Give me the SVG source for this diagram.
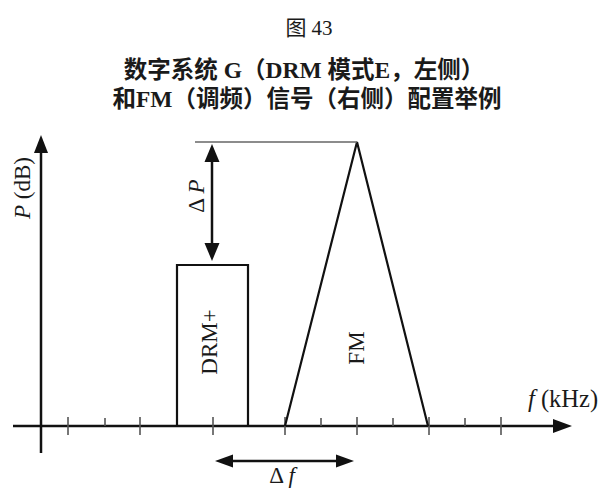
<svg xmlns="http://www.w3.org/2000/svg" width="603" height="488" viewBox="0 0 603 488">
  <style>
    .t { font-family: "Liberation Serif", "Noto Sans CJK SC", serif; fill: #1a1a1a; }
    .title { font-weight: bold; font-size: 23.5px; }
    .lbl { font-size: 23px; }
    .it { font-style: italic; }
    .axis { stroke: #111; stroke-width: 2.5; fill: none; }
    .tick { stroke: #555; stroke-width: 1.6; }
    .shape { stroke: #111; stroke-width: 2.2; fill: none; stroke-linejoin: miter; }
    .ref { stroke: #666; stroke-width: 1.6; }
    .arr { stroke: #111; stroke-width: 2.5; }
    .head { fill: #111; }
  </style>
  <rect width="603" height="488" fill="#fff"/>

  <g id="title">
    <text class="t" x="309" y="35" font-size="21" text-anchor="middle">图 43</text>
    <text class="t title" x="304" y="78" text-anchor="middle">数字系统 G（DRM 模式E，左侧）</text>
    <text class="t title" x="307" y="107" text-anchor="middle">和FM（调频）信号（右侧）配置举例</text>
  </g>

  <g id="axes">
    <line class="axis" x1="41" y1="453" x2="41" y2="152"/>
    <polygon class="head" points="41,135 34,153 48,153"/>
    <line class="axis" x1="13" y1="426" x2="554" y2="426"/>
    <polygon class="head" points="572,426 553,419 553,433"/>
    <g id="ticks">
      <line class="tick" x1="68" y1="417" x2="68" y2="435"/>
      <line class="tick" x1="105" y1="418" x2="105" y2="426"/>
      <line class="tick" x1="140" y1="417" x2="140" y2="435"/>
      <line class="tick" x1="213" y1="417" x2="213" y2="435"/>
      <line class="tick" x1="285" y1="417" x2="285" y2="435"/>
      <line class="tick" x1="321" y1="418" x2="321" y2="426"/>
      <line class="tick" x1="357" y1="417" x2="357" y2="435"/>
      <line class="tick" x1="393" y1="418" x2="393" y2="426"/>
      <line class="tick" x1="429" y1="417" x2="429" y2="435"/>
      <line class="tick" x1="465" y1="418" x2="465" y2="426"/>
      <line class="tick" x1="501" y1="417" x2="501" y2="435"/>
    </g>
    <text class="t lbl" transform="translate(30,188) rotate(-90)" text-anchor="middle"><tspan class="it">P</tspan> (dB)</text>
    <text class="t" x="528" y="407" font-size="24.5"><tspan class="it">f</tspan> (kHz)</text>
  </g>

  <g id="drm">
    <polyline class="shape" points="177,426 177,265 248,265 248,426"/>
    <text class="t lbl" transform="translate(217,342) rotate(-90)" text-anchor="middle">DRM+</text>
  </g>

  <g id="fm">
    <polyline class="shape" points="285,426 357,142 428,426"/>
    <text class="t lbl" transform="translate(364,348) rotate(-90)" text-anchor="middle">FM</text>
  </g>

  <g id="connectors">
    <line class="ref" x1="195" y1="142" x2="357" y2="142"/>
    <line class="arr" x1="212" y1="160" x2="212" y2="245"/>
    <polygon class="head" points="212,144 204.5,162 219.5,162"/>
    <polygon class="head" points="212,261 204.5,243 219.5,243"/>
    <text class="t lbl" transform="translate(204,196) rotate(-90)" text-anchor="middle">Δ <tspan class="it">P</tspan></text>
    <line class="arr" x1="231" y1="461" x2="338" y2="461"/>
    <polygon class="head" points="215,461 233,454.5 233,467.5"/>
    <polygon class="head" points="354,461 336,454.5 336,467.5"/>
    <text class="t lbl" x="282" y="483" text-anchor="middle">Δ <tspan class="it">f</tspan></text>
  </g>
</svg>
